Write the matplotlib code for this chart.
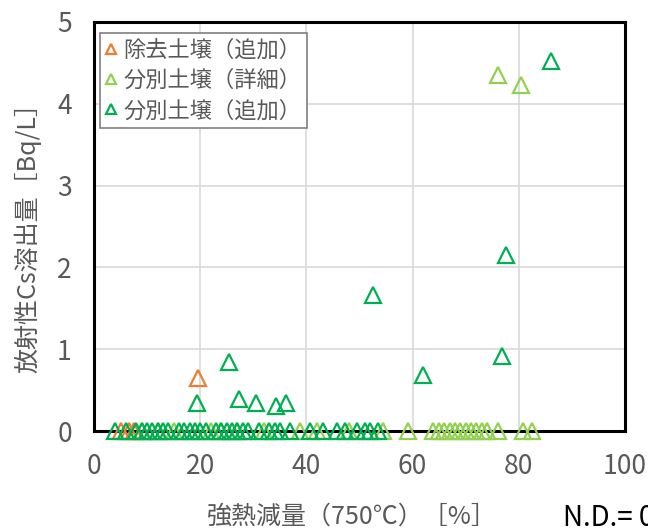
import matplotlib
matplotlib.use("Agg")
import matplotlib.pyplot as plt

plt.rcParams['font.family'] = ['Noto Sans CJK JP', 'DejaVu Sans']

# 除去土壌（追加）
jokyo_x = [5.0, 6.5, 7.5, 19.6]
jokyo_y = [0, 0, 0, 0.65]

# 分別土壌（詳細）
shosai_x = [9, 12, 15, 22, 24, 27, 32, 38.8, 42, 48, 54.4, 59.1, 63.8, 65, 66, 67, 68, 69,
            70, 71, 72, 73, 74, 76, 80.8, 82.5, 76.1, 80.4]
shosai_y = [0] * 26 + [4.35, 4.23]

# 分別土壌（追加）
tsuika_x = [4, 6, 8, 9, 10, 11, 12, 13, 14, 16, 17, 18, 19, 20, 21, 23, 24, 25, 26, 27,
            28, 29, 31, 33, 34, 35, 36.9, 40.7, 43.1, 45.8, 47.3, 49.5, 51, 52, 53.5,
            19.4, 25.4, 27.3, 30.5, 34.3, 36.2, 52.5, 62.0, 76.8, 77.6, 86.1]
tsuika_y = [0] * 35 + [0.34, 0.84, 0.39, 0.34, 0.31, 0.34, 1.66, 0.68, 0.92, 2.15, 4.52]

fig = plt.figure(figsize=(6.48, 5.29), dpi=100)
ax = fig.add_axes([94 / 648, 1 - 431 / 529, 531 / 648, 409 / 529])

ms = 12
mew = 1.6
ax.plot(jokyo_x, jokyo_y, ls='none', marker='^', ms=ms, mfc='none', mec='#ED7D31',
        mew=mew, label='除去土壌（追加）', clip_on=False, zorder=3)
ax.plot(shosai_x, shosai_y, ls='none', marker='^', ms=ms, mfc='none', mec='#92D050',
        mew=mew, label='分別土壌（詳細）', clip_on=False, zorder=3)
ax.plot(tsuika_x, tsuika_y, ls='none', marker='^', ms=ms, mfc='none', mec='#00B050',
        mew=mew, label='分別土壌（追加）', clip_on=False, zorder=3)

ax.set_xlim(0, 100)
ax.set_ylim(0, 5)
ax.set_xticks([0, 20, 40, 60, 80, 100])
ax.set_yticks([0, 1, 2, 3, 4, 5])
ax.grid(True, color='#D9D9D9', lw=1.2)
ax.set_axisbelow(True)
for s in ax.spines.values():
    s.set_linewidth(2.2)
    s.set_color('black')
ax.tick_params(length=0, labelsize=19, labelcolor='#595959')
ax.tick_params(axis='x', pad=16)
ax.tick_params(axis='y', pad=16)

ax.set_xlabel('強熱減量（750℃）［%］', fontsize=18, color='#595959')
ax.set_ylabel('放射性Cs溶出量［Bq/L］', fontsize=18, color='#595959')
ax.xaxis.set_label_coords(0.486, -0.21)
ax.yaxis.set_label_coords(-0.124, 0.487)
ax.xaxis.label.set_va('center')
ax.yaxis.label.set_va('center')

leg = ax.legend(loc='upper left', bbox_to_anchor=(0.011, 0.973), borderaxespad=0,
                fontsize=16, markerscale=0.6, handlelength=0.5, handletextpad=0.3,
                borderpad=0.25, labelspacing=0.33,
                fancybox=False, edgecolor='#7F7F7F', framealpha=1)
leg.get_frame().set_linewidth(1.2)
for t in leg.get_texts():
    t.set_color('#595959')

# cut off at the right edge, as in the original figure
fig.text(563 / 648, 1 - 518 / 529, 'N.D.= 0', fontsize=20, color='black', va='center')

fig.savefig('out.png', dpi=100)
